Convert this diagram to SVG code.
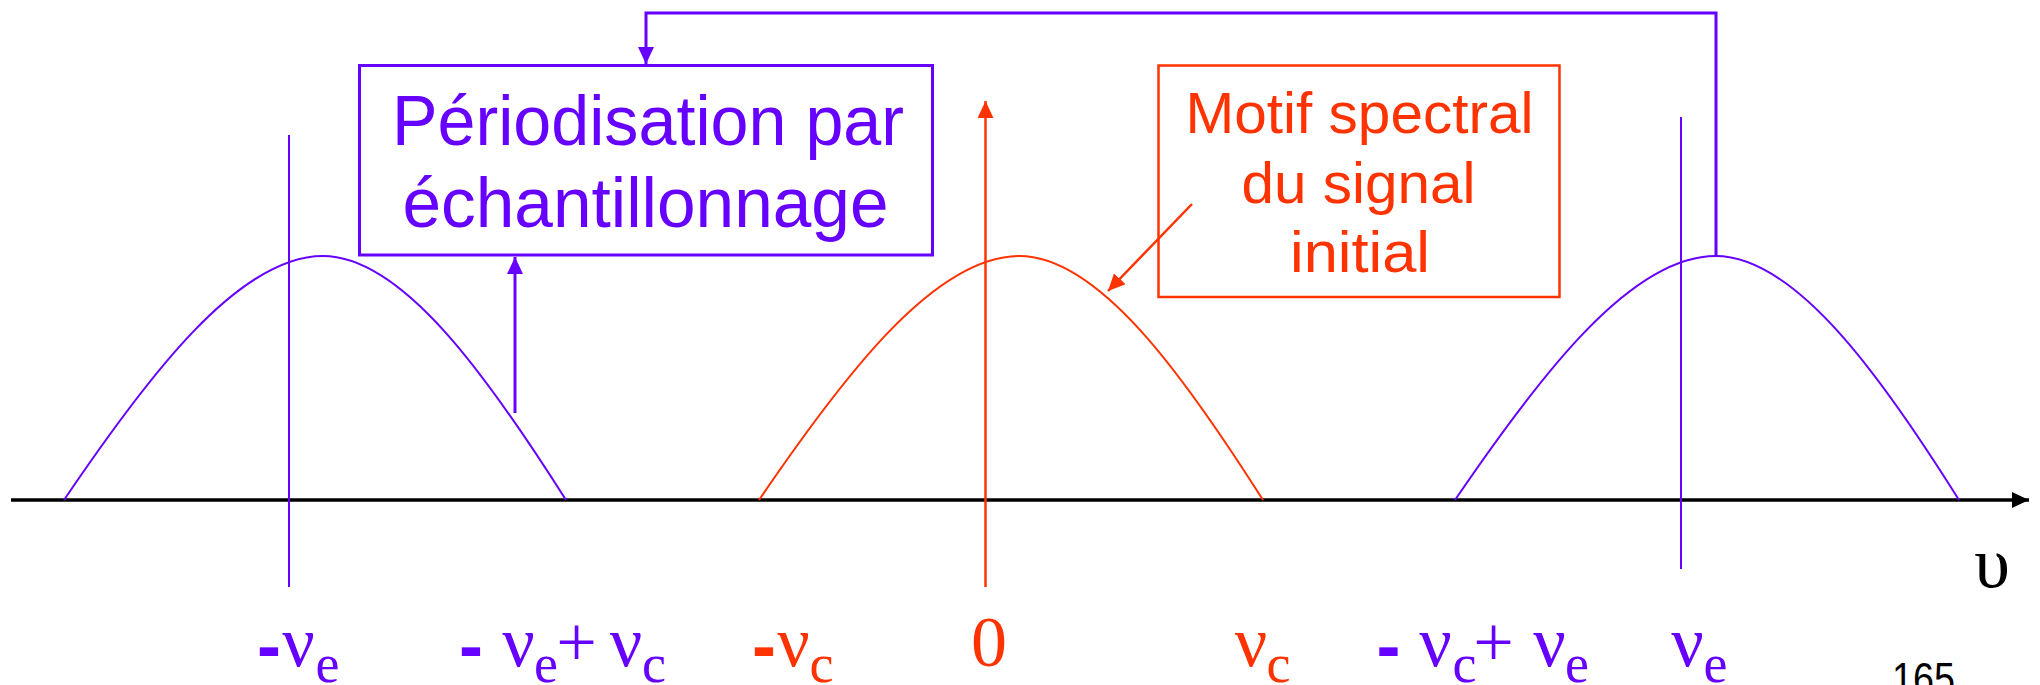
<svg xmlns="http://www.w3.org/2000/svg" width="2040" height="685" viewBox="0 0 2040 685">
<style>
.p{stroke:#6600FF;fill:none}
.r{stroke:#FF3300;fill:none}
.box{font-family:"Liberation Sans",Arial,sans-serif}
.sym{font-family:"Liberation Serif","Times New Roman",serif;font-size:72px}
.sub{font-family:"Liberation Serif","Times New Roman",serif;font-size:54px}
.hy{font-family:"Liberation Sans",Arial,sans-serif;font-weight:bold;font-size:72px}
.fp{fill:#6600FF}
.fr{fill:#FF3300}
</style>
<defs>
<marker id="ap" markerUnits="userSpaceOnUse" markerWidth="18" markerHeight="16" refX="17" refY="8" orient="auto"><path d="M0,0 L17,8 L0,16 z" fill="#6600FF"/></marker>
<marker id="ar" markerUnits="userSpaceOnUse" markerWidth="18" markerHeight="16" refX="17" refY="8" orient="auto"><path d="M0,0 L17,8 L0,16 z" fill="#FF3300"/></marker>
<marker id="ak" markerUnits="userSpaceOnUse" markerWidth="18" markerHeight="16" refX="17" refY="8" orient="auto"><path d="M0,0 L17,8 L0,16 z" fill="#000"/></marker>
</defs>
<rect width="2040" height="685" fill="#fff"/>

<g id="axis">
<line x1="11" y1="500" x2="2029" y2="500" stroke="#000" stroke-width="3.5" marker-end="url(#ak)"/>
<text x="1992" y="587" class="sym" text-anchor="middle" fill="#000">υ</text>
</g>

<g id="curves">
<path class="p" stroke-width="2" d="M64,500 C148.2,375.6 238.8,256 323,256 C402,256 487,375.6 566,500"/>
<path class="r" stroke-width="2" d="M759,500 C843.7,375.6 934.8,256 1019.5,256 C1098.6,256 1183.9,375.6 1263,500"/>
<path class="p" stroke-width="2" d="M1455,500 C1539.7,375.6 1630.9,256 1715.6,256 C1795.3,256 1880.9,375.6 1959,500"/>
</g>

<g id="ticks">
<line class="p" stroke-width="2" x1="289" y1="135" x2="289" y2="587"/>
<line class="r" stroke-width="2.5" x1="985.5" y1="587" x2="985.5" y2="101" marker-end="url(#ar)"/>
<line class="p" stroke-width="2" x1="1681" y1="117" x2="1681" y2="569"/>
</g>

<g id="box-periodisation">
<rect x="359.5" y="65.5" width="573" height="189.5" class="p" stroke-width="3"/>
<text class="box fp" font-size="70" text-anchor="middle" x="648" y="145" textLength="512" lengthAdjust="spacingAndGlyphs">Périodisation par</text>
<text class="box fp" font-size="70" text-anchor="middle" x="645.5" y="227" textLength="486" lengthAdjust="spacingAndGlyphs">échantillonnage</text>
</g>

<g id="box-motif">
<rect x="1158.5" y="65.5" width="401" height="231.5" class="r" stroke-width="2.5"/>
<text class="box fr" font-size="58" text-anchor="middle" x="1359.5" y="133" textLength="348" lengthAdjust="spacingAndGlyphs">Motif spectral</text>
<text class="box fr" font-size="58" text-anchor="middle" x="1358.5" y="203" textLength="234" lengthAdjust="spacingAndGlyphs">du signal</text>
<text class="box fr" font-size="58" text-anchor="middle" x="1360" y="272" textLength="140" lengthAdjust="spacingAndGlyphs">initial</text>
</g>

<g id="connectors">
<polyline class="p" stroke-width="3" points="1716,256 1716,13 646,13 646,64" marker-end="url(#ap)"/>
<line class="p" stroke-width="3" x1="515" y1="413" x2="515" y2="257" marker-end="url(#ap)"/>
<line class="r" stroke-width="2.5" x1="1192" y1="204" x2="1108" y2="291" marker-end="url(#ar)"/>
</g>

<g id="labels">
<text class="fp" text-anchor="middle"><tspan class="hy" x="269" y="670">-</tspan><tspan class="sym" x="298.5" y="666">ν</tspan><tspan class="sub" x="327.5" y="682">e</tspan></text>
<text class="fp" text-anchor="middle"><tspan class="hy" x="471" y="670">-</tspan><tspan class="sym" x="518.5" y="666">ν</tspan><tspan class="sub" x="546" y="682">e</tspan><tspan class="sym" x="576.5" y="666">+</tspan><tspan class="sym" x="626" y="666">ν</tspan><tspan class="sub" x="654" y="682">c</tspan></text>
<text class="fr" text-anchor="middle"><tspan class="hy" x="764" y="670">-</tspan><tspan class="sym" x="793.5" y="666">ν</tspan><tspan class="sub" x="821.5" y="682">c</tspan></text>
<text class="fr sym" text-anchor="middle" x="989" y="666">0</text>
<text class="fr" text-anchor="middle"><tspan class="sym" x="1251" y="666">ν</tspan><tspan class="sub" x="1278.5" y="682">c</tspan></text>
<text class="fp" text-anchor="middle"><tspan class="hy" x="1388.5" y="670">-</tspan><tspan class="sym" x="1435.5" y="666">ν</tspan><tspan class="sub" x="1464.5" y="682">c</tspan><tspan class="sym" x="1493.5" y="666">+</tspan><tspan class="sym" x="1549.5" y="666">ν</tspan><tspan class="sub" x="1577" y="682">e</tspan></text>
<text class="fp" text-anchor="middle"><tspan class="sym" x="1687.5" y="666">ν</tspan><tspan class="sub" x="1715.5" y="682">e</tspan></text>
<text font-family="Liberation Sans, Arial, sans-serif" font-size="44" text-anchor="middle" x="1923.5" y="694" textLength="63" lengthAdjust="spacingAndGlyphs" fill="#000">165</text>
</g>
</svg>
